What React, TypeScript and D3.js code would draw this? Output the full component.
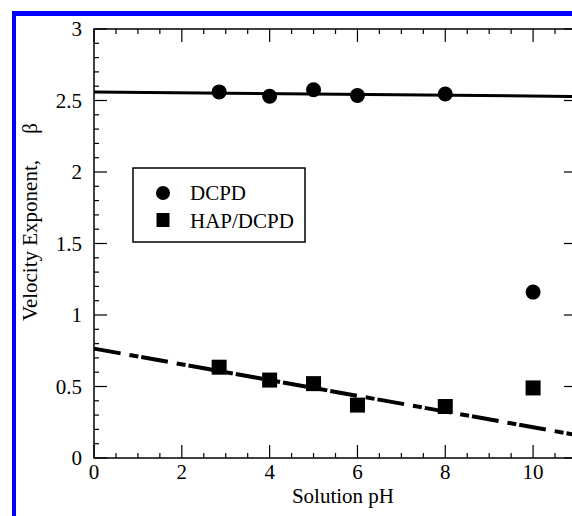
import React from 'react';
import * as d3 from 'd3';

// measured points
const dcpdPH = [2.85, 4, 5, 6, 8, 10];
const dcpdBeta = [2.56, 2.53, 2.575, 2.535, 2.545, 1.16];
const hapPH = [2.85, 4, 5, 6, 8, 10];
const hapBeta = [0.635, 0.545, 0.52, 0.37, 0.36, 0.49];

// fitted lines (endpoints at pH 0 and 11)
const fitPH = [0, 11];
const dcpdFit = [2.56, 2.528];
const hapFit = [0.765, 0.16];

const xTicks = [0, 2, 4, 6, 8, 10];
const yTicks = [0, 0.5, 1, 1.5, 2, 2.5, 3];
const legendLabels = ['DCPD', 'HAP/DCPD'];

const W = 572;
const H = 516;
const FONT = "'Liberation Serif', 'DejaVu Serif', serif";

const App = () => {
  const x = d3.scaleLinear().domain([0, 11]).range([94, 577]);
  const y = d3.scaleLinear().domain([0, 3]).range([458, 29]);

  const line = d3.line<number>()
    .x((_, i) => x(fitPH[i]))
    .y(d => y(d));

  const xMinor = d3.range(0, 11.01, 0.5);
  const yMinor = d3.range(0, 3.001, 0.1);
  const isMajorX = (v: number) => Math.abs(v / 2 - Math.round(v / 2)) < 1e-6;
  const isMajorY = (v: number) => Math.abs(v * 2 - Math.round(v * 2)) < 1e-6;

  const [x0, x1] = x.range();
  const [y0, y1] = y.range();
  const ts = { fontFamily: FONT };

  return (
    <svg
      width={W}
      height={H}
      viewBox={`0 0 ${W} ${H}`}
      style={{ position: 'absolute', left: 0, top: 0, background: '#fff', fontFamily: FONT }}
    >
      {/* blue frame */}
      <rect x={12} y={11} width={4} height={H - 11} fill="#0000ff" />
      <rect x={12} y={11} width={W - 12} height={5} fill="#0000ff" />

      {/* plot frame */}
      <rect x={x0} y={y1} width={x1 - x0} height={y0 - y1} fill="none" stroke="#000" strokeWidth={1.5} />

      {/* x ticks, bottom and top */}
      {xMinor.map(v => {
        const len = isMajorX(v) ? 13 : 5;
        return (
          <g key={'xt' + v}>
            <line x1={x(v)} x2={x(v)} y1={y0} y2={y0 - len} stroke="#000" strokeWidth={1.2} />
            <line x1={x(v)} x2={x(v)} y1={y1} y2={y1 + len} stroke="#000" strokeWidth={1.2} />
          </g>
        );
      })}
      {/* y ticks, left and right */}
      {yMinor.map(v => {
        const len = isMajorY(v) ? 13 : 5;
        return (
          <g key={'yt' + v.toFixed(1)}>
            <line x1={x0} x2={x0 + len} y1={y(v)} y2={y(v)} stroke="#000" strokeWidth={1.2} />
            <line x1={x1} x2={x1 - len} y1={y(v)} y2={y(v)} stroke="#000" strokeWidth={1.2} />
          </g>
        );
      })}

      {/* tick labels */}
      {xTicks.map(v => (
        <text key={'xl' + v} x={x(v)} y={479} textAnchor="middle" fontSize={21} style={ts}>{v}</text>
      ))}
      {yTicks.map(v => (
        <text key={'yl' + v} x={82} y={y(v)} dy="0.35em" textAnchor="end" fontSize={21} style={ts}>{v}</text>
      ))}

      {/* axis titles */}
      <text x={343} y={503} textAnchor="middle" fontSize={21} style={ts}>Solution pH</text>
      <text
        transform={`translate(37, 222) rotate(-90)`}
        textAnchor="middle"
        fontSize={21}
        style={{ ...ts, whiteSpace: 'pre' }}
      >
        {'Velocity Exponent,     β'}
      </text>

      {/* fits */}
      <path d={line(dcpdFit) || ''} fill="none" stroke="#000" strokeWidth={3} />
      <path d={line(hapFit) || ''} fill="none" stroke="#000" strokeWidth={4} strokeDasharray="27,9,9,3" />

      {/* points */}
      {dcpdPH.map((p, i) => (
        <circle key={'c' + i} cx={x(p)} cy={y(dcpdBeta[i])} r={7.5} fill="#000" />
      ))}
      {hapPH.map((p, i) => (
        <rect key={'s' + i} x={x(p) - 7.5} y={y(hapBeta[i]) - 7.5} width={15} height={15} fill="#000" />
      ))}

      {/* legend */}
      <rect x={133} y={168} width={172} height={74} fill="#fff" stroke="#000" strokeWidth={1.5} />
      <circle cx={163} cy={193} r={7} fill="#000" />
      <rect x={156.5} y={213} width={13} height={14} fill="#000" />
      <text x={190} y={200} fontSize={21} style={ts}>{legendLabels[0]}</text>
      <text x={190} y={228} fontSize={21} style={ts}>{legendLabels[1]}</text>
    </svg>
  );
};

export default App;
